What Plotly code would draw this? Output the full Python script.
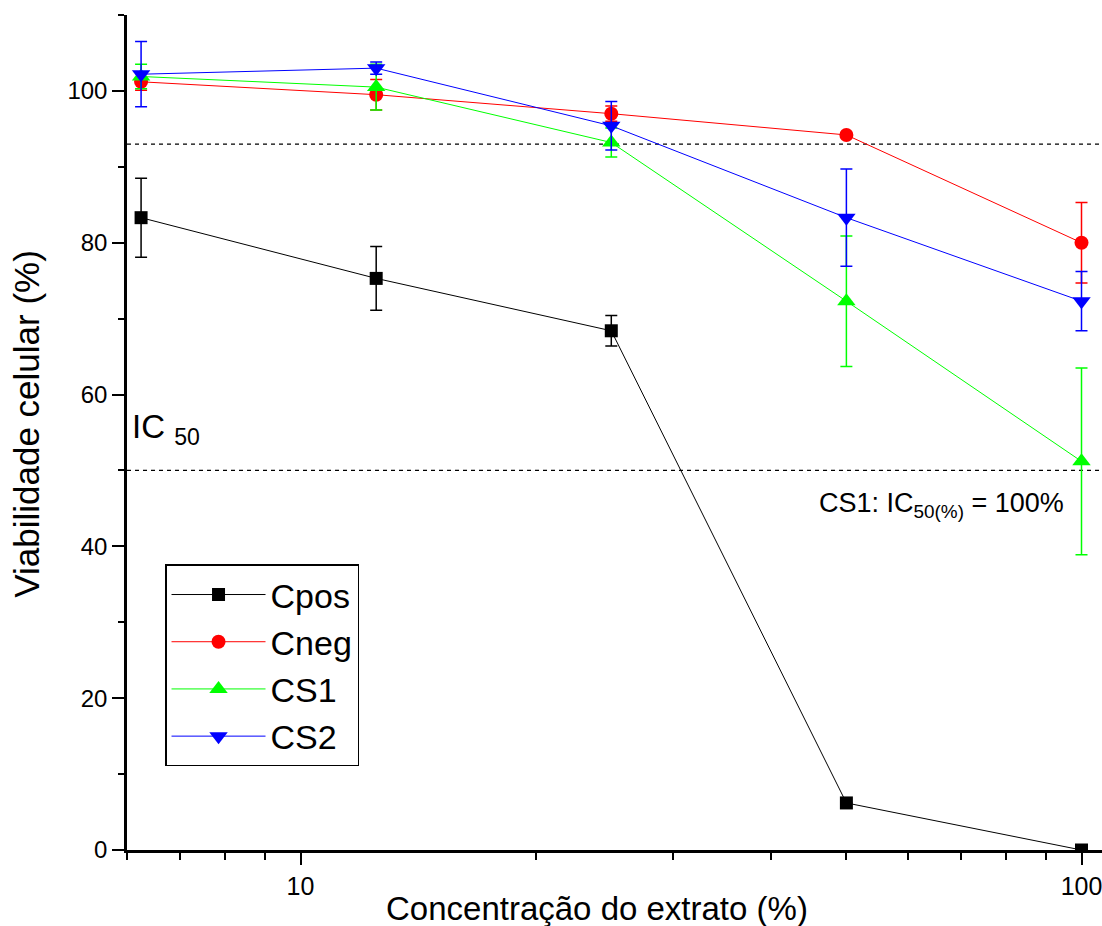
import plotly.graph_objects as go

# Extract concentrations (%) on a log scale
concentracao = [6.25, 12.5, 25, 50, 100]

# Cell viability (%) and standard deviations per group
cpos = [83.3, 75.3, 68.4, 6.2, 0.0]
cpos_sd = [5.2, 4.2, 2.0, 0.0, 0.0]

cneg = [101.2, 99.5, 97.0, 94.2, 80.0]
cneg_sd = [1.1, 2.0, 1.0, 0.0, 5.3]

cs1 = [101.9, 100.5, 93.2, 72.3, 51.2]
cs1_sd = [1.6, 3.0, 1.9, 8.6, 12.3]

cs2 = [102.2, 103.0, 95.4, 83.3, 72.3]
cs2_sd = [4.3, 0.8, 3.2, 6.4, 3.9]

# Reference levels drawn as dashed lines
ref_levels = [93, 50]

series = [
    ("Cpos", cpos, cpos_sd, "#000000", "square", 13),
    ("Cneg", cneg, cneg_sd, "#ff0000", "circle", 14),
    ("CS1", cs1, cs1_sd, "#00ff00", "triangle-up", 16),
    ("CS2", cs2, cs2_sd, "#0000ff", "triangle-down", 16),
]

FONT = "Liberation Sans, Arial, sans-serif"

fig = go.Figure()
for name, vals, sd, color, symbol, size in series:
    fig.add_trace(go.Scatter(
        x=concentracao, y=vals, name=name, mode="lines+markers",
        line=dict(color=color, width=1),
        marker=dict(symbol=symbol, size=size, color=color),
        error_y=dict(type="data", array=sd, visible=True,
                     color=color, thickness=1.5, width=6),
    ))

for lvl in ref_levels:
    fig.add_shape(type="line", xref="paper", yref="y", x0=0, x1=1,
                  y0=lvl, y1=lvl, line=dict(color="black", width=1.2, dash="4px,4px"),
                  layer="below")

fig.add_annotation(xref="paper", yref="y", x=0.003, y=55.5, xanchor="left",
                   yanchor="middle", showarrow=False,
                   text="IC <sub>50</sub>", font=dict(family=FONT, size=33, color="black"))
fig.add_annotation(xref="paper", yref="y", x=0.963, y=45.5, xanchor="right",
                   yanchor="middle", showarrow=False,
                   text="CS1: IC<sub>50(%)</sub> = 100%",
                   font=dict(family=FONT, size=27, color="black"))

# Axis titles
fig.add_annotation(xref="paper", yref="paper", x=0.482, y=-0.07, xanchor="center",
                   yanchor="middle", showarrow=False,
                   text="Concentração do extrato (%)",
                   font=dict(family=FONT, size=33, color="black"))
fig.add_annotation(xref="paper", yref="paper", x=-0.103, y=0.51, xanchor="center",
                   yanchor="middle", showarrow=False, textangle=-90,
                   text="Viabilidade celular (%)",
                   font=dict(family=FONT, size=35, color="black"))

fig.update_layout(
    width=1102, height=926,
    margin=dict(l=127, r=0, t=15, b=76),
    plot_bgcolor="white", paper_bgcolor="white",
    font=dict(family=FONT, color="black"),
    showlegend=True,
    legend=dict(
        x=0.039, y=0.342, xanchor="left", yanchor="top",
        bordercolor="black", borderwidth=1.5, bgcolor="white",
        font=dict(family=FONT, size=34, color="black"),
        itemwidth=94,
    ),
    xaxis=dict(
        type="log", range=[0.77785, 2.02625],
        tickmode="array", tickvals=[10, 100], ticktext=["10", "100"],
        ticks="outside", ticklen=12, tickwidth=2, tickcolor="black",
        showline=True, linewidth=2.5, linecolor="black",
        showgrid=False, zeroline=False, ticklabeloverflow="allow",
        tickfont=dict(family=FONT, size=25, color="black"),
        minor=dict(tickmode="array",
                   tickvals=[6, 7, 8, 9, 20, 30, 40, 50, 60, 70, 80, 90],
                   ticks="outside", ticklen=7, tickwidth=2, tickcolor="black",
                   showgrid=False),
    ),
    yaxis=dict(
        range=[0, 110], tickmode="linear", tick0=0, dtick=20,
        ticks="outside", ticklen=12, tickwidth=2, tickcolor="black",
        showline=True, linewidth=2.5, linecolor="black",
        showgrid=False, zeroline=False,
        tickfont=dict(family=FONT, size=24, color="black"),
        minor=dict(dtick=10, ticks="outside", ticklen=6, tickwidth=2,
                   tickcolor="black", showgrid=False),
    ),
)

fig.write_html("out.html")
